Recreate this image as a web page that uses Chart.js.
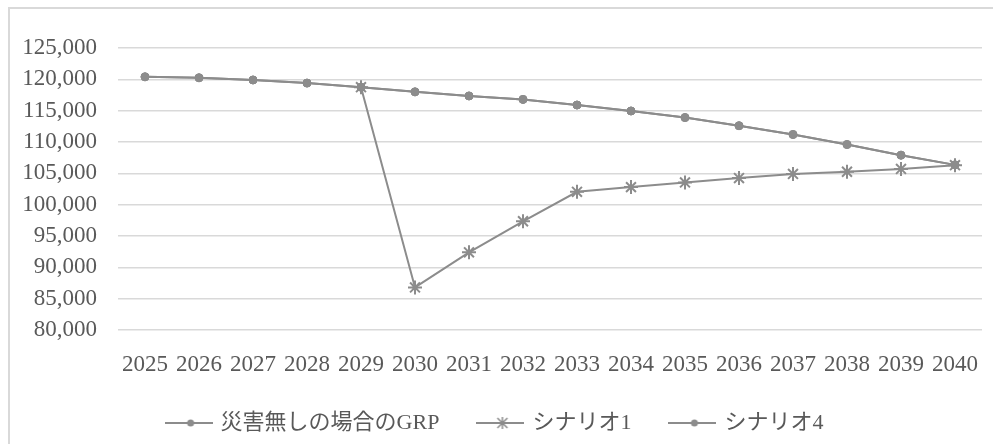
<!DOCTYPE html>
<html lang="ja">
<head>
<meta charset="UTF-8">
<title>災害無しの場合のGRP とシナリオ</title>
<script src="https://cdn.jsdelivr.net/npm/chart.js"></script>
<style>
  html, body { margin: 0; padding: 0; background: #fff; }
  .frame {
    position: absolute; left: 8px; top: 7px; width: 1000px; height: 460px;
    border-left: 2px solid #d9d9d9; border-top: 2px solid #d9d9d9;
  }
  .chart-box { position: absolute; left: 0; top: 0; width: 993px; height: 444px; }
</style>
</head>
<body>
<div class="frame"></div>
<div class="chart-box"><canvas id="grpChart"></canvas></div>

<script>
// データ
const years = ['2025', '2026', '2027', '2028', '2029', '2030', '2031', '2032',
               '2033', '2034', '2035', '2036', '2037', '2038', '2039', '2040'];
const grpNoDisaster = [120400, 120250, 119900, 119400, 118750, 118000, 117350, 116800,
                       115900, 114950, 113900, 112600, 111200, 109600, 107900, 106350];
const scenario1 = [null, null, null, null, 118750, 86800, 92400, 97350,
                   102050, 102800, 103550, 104250, 104900, 105250, 105700, 106300];
const scenario4 = [120400, 120250, 119900, 119400, 118750, 118000, 117350, 116800,
                   115900, 114950, 113900, 112600, 111200, 109600, 107900, 106350];
const seriesNames = ['災害無しの場合のGRP', 'シナリオ1', 'シナリオ4'];
const yMin = 80000, yMax = 125000, yStep = 5000;

const lineColor = '#8c8c8c';
const textColor = '#595959';
const gridColor = '#d9d9d9';
const fontFamily = "'Liberation Serif', 'Noto Sans CJK JP', serif";

// 凡例用アイコン（線＋マーカー）
function legendIcon(kind) {
    const c = document.createElement('canvas');
    c.width = 48; c.height = 16;
    const g = c.getContext('2d');
    g.strokeStyle = lineColor;
    g.fillStyle = lineColor;
    g.lineWidth = 2;
    g.beginPath(); g.moveTo(0, 8); g.lineTo(48, 8); g.stroke();
    if (kind === 'circle') {
        g.beginPath(); g.arc(26, 8, 3.5, 0, Math.PI * 2); g.fill();
    } else {
        g.lineWidth = 1.5;
        g.beginPath();
        g.moveTo(21, 3); g.lineTo(31, 13);
        g.moveTo(31, 3); g.lineTo(21, 13);
        g.moveTo(26, 2); g.lineTo(26, 14);
        g.stroke();
    }
    return c;
}
const legendIcons = [legendIcon('circle'), legendIcon('star'), legendIcon('circle')];

new Chart(document.getElementById('grpChart'), {
    type: 'line',
    data: {
        labels: years,
        datasets: [
            {
                label: seriesNames[0],
                data: grpNoDisaster,
                borderColor: lineColor,
                backgroundColor: lineColor,
                borderWidth: 2,
                pointStyle: 'circle',
                pointRadius: 4,
                pointBorderWidth: 1,
                tension: 0
            },
            {
                label: seriesNames[1],
                data: scenario1,
                borderColor: lineColor,
                backgroundColor: lineColor,
                borderWidth: 2,
                pointStyle: 'star',
                pointRadius: 7,
                pointBorderWidth: 2,
                tension: 0
            },
            {
                label: seriesNames[2],
                data: scenario4,
                borderColor: lineColor,
                backgroundColor: lineColor,
                borderWidth: 2,
                pointStyle: 'circle',
                pointRadius: 4,
                pointBorderWidth: 1,
                tension: 0
            }
        ]
    },
    options: {
        responsive: true,
        maintainAspectRatio: false,
        animation: false,
        layout: {
            padding: { left: 9, right: 11, top: 48, bottom: 0 }
        },
        plugins: {
            title: { display: false },
            tooltip: { enabled: false },
            legend: {
                position: 'bottom',
                labels: {
                    usePointStyle: true,
                    pointStyleWidth: 42,
                    padding: 40,
                    color: textColor,
                    font: { family: fontFamily, size: 22 },
                    generateLabels(chart) {
                        const items = Chart.defaults.plugins.legend.labels.generateLabels(chart);
                        items.forEach((it, i) => { it.pointStyle = legendIcons[i]; });
                        return items;
                    }
                }
            }
        },
        scales: {
            x: {
                offset: true,
                grid: { display: false },
                border: { display: false },
                afterFit(scale) { scale.height = 42; },
                ticks: {
                    color: textColor,
                    font: { family: fontFamily, size: 23 },
                    padding: 13,
                    maxRotation: 0,
                    autoSkip: false
                }
            },
            y: {
                min: yMin,
                max: yMax,
                border: { display: false },
                grid: { color: gridColor, lineWidth: 1.5, drawTicks: false },
                afterFit(scale) { scale.width = 109; },
                ticks: {
                    stepSize: yStep,
                    autoSkip: false,
                    color: textColor,
                    font: { family: fontFamily, size: 23 },
                    padding: 21,
                    callback: v => v.toLocaleString('en-US')
                }
            }
        }
    }
});
</script>
</body>
</html>
